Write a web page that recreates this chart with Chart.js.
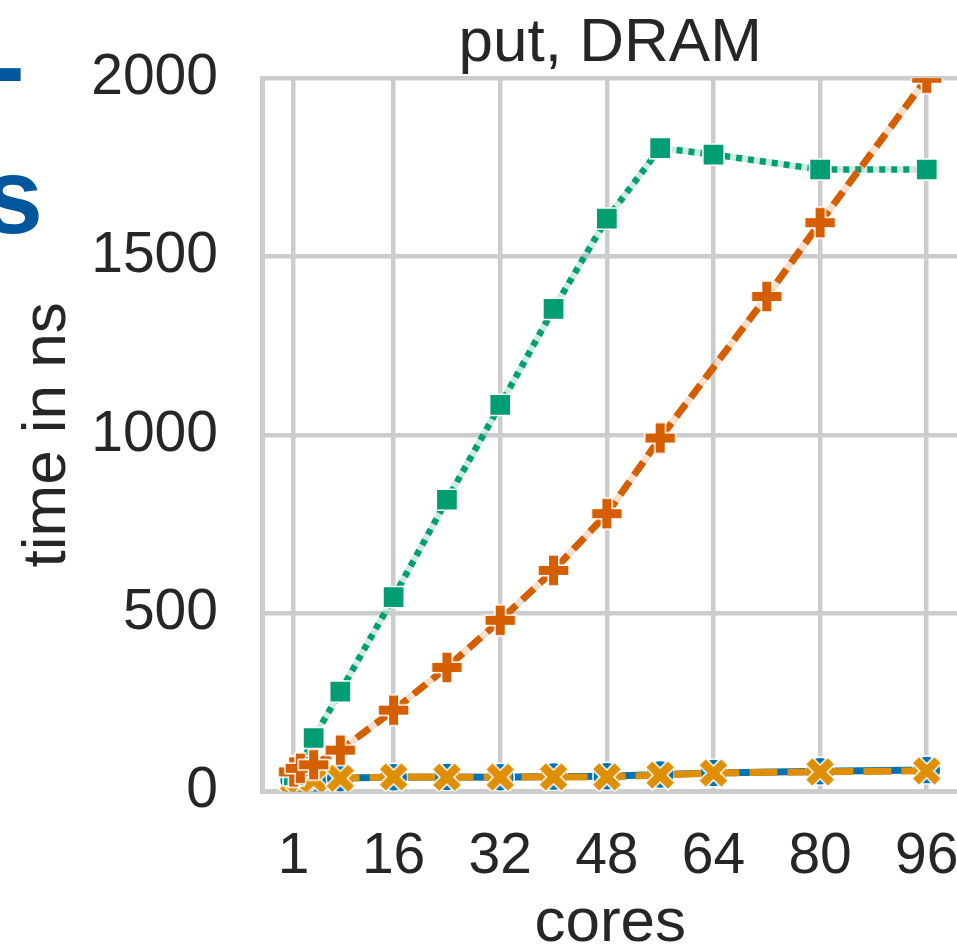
<!DOCTYPE html>
<html>
<head>
<meta charset="utf-8">
<script src="https://cdn.jsdelivr.net/npm/chart.js@4.4.1/dist/chart.umd.min.js"></script>
<style>
    html, body { margin: 0; padding: 0; background: #fff; overflow: hidden; }
    #wrap { position: relative; width: 957px; height: 950px; overflow: hidden; }
    canvas { display: block; }
</style>
</head>
<body>
<div id="wrap"><canvas id="grafico" width="962" height="950"></canvas></div>
<script>
// tick positions
const xTicks = [1, 16, 32, 48, 64, 80, 96];
const yTicks = [0, 500, 1000, 1500, 2000];

// put latency per core count, one array pair per variant
const coresBlue = [1, 2, 4, 8, 16, 24, 32, 40, 48, 56, 64, 80, 96];
const timeBlue = [32, 33, 34, 38, 40, 41, 40, 42, 43, 48, 52, 57, 60];

const coresOrange = [1, 2, 4, 8, 16, 24, 32, 40, 48, 56, 64, 80, 96];
const timeOrange = [30, 32, 33, 37, 41, 40, 40, 41, 41, 46, 52, 55, 58];

const coresGreen = [1, 2, 4, 8, 16, 24, 32, 40, 48, 56, 64, 80, 96];
const timeGreen = [45, 70, 150, 280, 545, 818, 1084, 1353, 1606, 1804, 1786, 1744, 1744];

const coresRed = [1, 2, 4, 8, 16, 24, 32, 40, 48, 56, 72, 80, 96];
const timeRed = [55, 65, 75, 116, 228, 348, 480, 620, 779, 991, 1388, 1595, 2000];

const FONT = '"Liberation Sans", Arial, sans-serif';
const TEXT = "#262626";

function pontos(xs, ys) {
    return xs.map((x, i) => ({ x, y: ys[i] }));
}

// filled plus marker, optionally turned 45deg to make an X
function marcadorCruz(color, half, arm, rotate) {
    const c = document.createElement("canvas");
    const size = Math.ceil(half * 2 + 6);
    c.width = c.height = size;
    const ctx = c.getContext("2d");
    const a = arm / 2;
    ctx.translate(size / 2, size / 2);
    if (rotate) ctx.rotate(Math.PI / 4);
    ctx.beginPath();
    ctx.moveTo(-a, -half);
    ctx.lineTo(a, -half);
    ctx.lineTo(a, -a);
    ctx.lineTo(half, -a);
    ctx.lineTo(half, a);
    ctx.lineTo(a, a);
    ctx.lineTo(a, half);
    ctx.lineTo(-a, half);
    ctx.lineTo(-a, a);
    ctx.lineTo(-half, a);
    ctx.lineTo(-half, -a);
    ctx.lineTo(-a, -a);
    ctx.closePath();
    ctx.fillStyle = color;
    ctx.fill();
    ctx.strokeStyle = "#ffffff";
    ctx.lineWidth = 1.5;
    ctx.stroke();
    return c;
}

const plusRed = marcadorCruz("#d55e00", 15.5, 10.5, false);
const xOrange = marcadorCruz("#de8f05", 16, 10, true);

function halo(xs, ys, color, width, order) {
    return {
        data: pontos(xs, ys),
        borderColor: color,
        borderWidth: width,
        pointRadius: 0,
        clip: 0,
        order
    };
}

const titulos = {
    id: "titulos",
    afterDraw(chart) {
        const { ctx, chartArea } = chart;
        const cx = (chartArea.left + chartArea.right) / 2;
        ctx.save();
        ctx.fillStyle = TEXT;
        ctx.textAlign = "center";
        ctx.textBaseline = "alphabetic";
        ctx.font = `62px ${FONT}`;
        ctx.fillText("put, DRAM", cx, 61);
        ctx.fillText("cores", cx, 941);
        ctx.translate(65, (chartArea.top + chartArea.bottom) / 2);
        ctx.rotate(-Math.PI / 2);
        ctx.fillText("time in ns", 0, 0);
        ctx.restore();

        // fragments of the neighbouring panel heading
        ctx.save();
        ctx.fillStyle = "#02569b";
        ctx.font = `bold 108px ${FONT}`;
        ctx.textAlign = "right";
        ctx.fillText("-", 25, 103);
        ctx.fillText("s", 43, 233);
        ctx.restore();
    }
};

const ctx = document.getElementById("grafico");

new Chart(ctx, {
    type: "line",
    data: {
        datasets: [
            {
                data: pontos(coresRed, timeRed),
                borderColor: "#d55e00",
                borderWidth: 7,
                borderDash: [16, 8],
                pointStyle: plusRed,
                clip: 0,
                order: 1
            },
            halo(coresRed, timeRed, "rgba(213, 94, 0, 0.2)", 7, 2),
            {
                data: pontos(coresGreen, timeGreen),
                borderColor: "#029e73",
                borderWidth: 6.5,
                borderDash: [6, 6],
                pointStyle: "rect",
                pointRadius: 15,
                pointBackgroundColor: "#029e73",
                pointBorderColor: "#ffffff",
                pointBorderWidth: 1.5,
                clip: 0,
                order: 3
            },
            halo(coresGreen, timeGreen, "rgba(2, 158, 115, 0.2)", 6.5, 4),
            {
                data: pontos(coresOrange, timeOrange),
                borderColor: "#de8f05",
                borderWidth: 7,
                borderDash: [28, 10],
                pointStyle: xOrange,
                clip: 0,
                order: 5
            },
            {
                data: pontos(coresBlue, timeBlue),
                borderColor: "#0173b2",
                borderWidth: 7,
                pointStyle: "circle",
                pointRadius: 14,
                pointBackgroundColor: "#0173b2",
                pointBorderColor: "#ffffff",
                pointBorderWidth: 1.5,
                clip: 0,
                order: 6
            }
        ]
    },
    options: {
        responsive: false,
        animation: false,
        events: [],
        layout: {
            autoPadding: false,
            padding: { top: 76.5, right: 3.6, left: 0, bottom: 0 }
        },
        plugins: {
            legend: { display: false },
            tooltip: { enabled: false }
        },
        elements: {
            line: { tension: 0, borderCapStyle: "butt", borderJoinStyle: "round" }
        },
        scales: {
            x: {
                type: "linear",
                min: -3.75,
                max: 100.75,
                afterBuildTicks: s => { s.ticks = xTicks.map(v => ({ value: v })); },
                afterFit: s => {
                    s.height = 158.5;
                    s.paddingLeft = 0;
                    s.paddingRight = 0;
                },
                grid: { color: "#cccccc", lineWidth: 4.5, drawTicks: false },
                border: { color: "#cccccc", width: 5 },
                ticks: {
                    color: TEXT,
                    font: { family: FONT, size: 57 },
                    padding: 32,
                    maxRotation: 0,
                    autoSkip: false,
                    callback: v => String(v)
                }
            },
            y: {
                type: "linear",
                min: 0,
                max: 2000,
                afterBuildTicks: s => { s.ticks = yTicks.map(v => ({ value: v })); },
                afterFit: s => { s.width = 262; },
                grid: { color: "#cccccc", lineWidth: 4.5, drawTicks: false },
                border: { color: "#cccccc", width: 5 },
                ticks: {
                    color: TEXT,
                    font: { family: FONT, size: 57 },
                    padding: 44,
                    callback: v => String(v)
                }
            }
        }
    },
    plugins: [titulos]
});
</script>
</body>
</html>
